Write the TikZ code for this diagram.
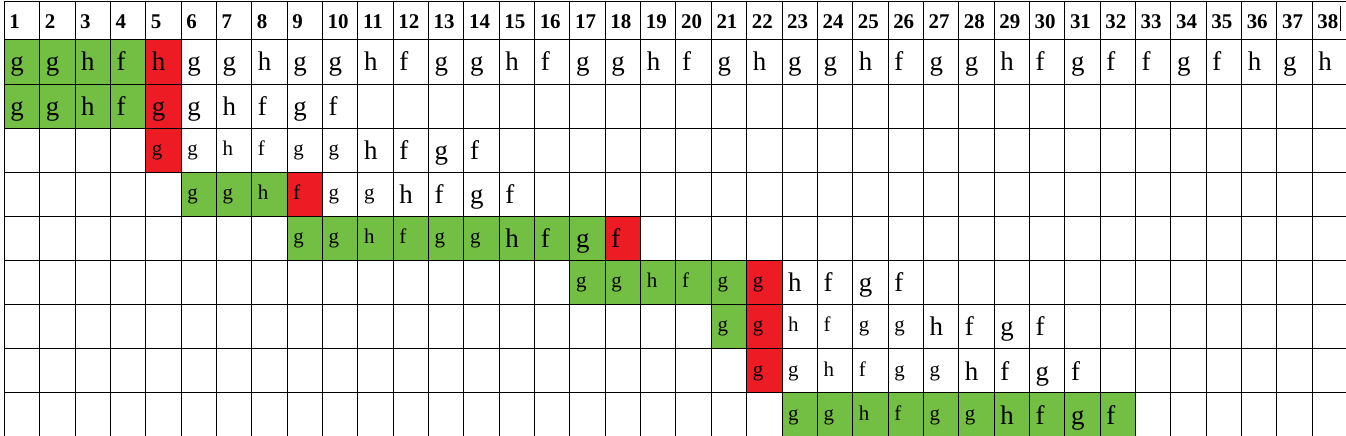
\documentclass[tikz,border=0pt]{standalone}
\usepackage{fontspec}
\setmainfont{Liberation Serif}
\definecolor{cgreen}{RGB}{114,191,68}
\definecolor{cred}{RGB}{237,28,36}
\def\rowtops{{1.5,39.5,84.5,128.5,172.5,216.5,260.5,304.5,348.5,392.5,436.5}}
\newcommand\colx[2]{\pgfmathsetmacro#1{floor(4.3+35.35*(#2))+0.5}}
\newcommand\fillcells[4]{% row, first col, last col, colour
  \colx\xa{#2-1}
  \colx\xb{#3}
  \pgfmathsetmacro\ya{\rowtops[#1]}
  \pgfmathsetmacro\yb{\rowtops[#1+1]}
  \fill[#4] (\xa,\ya) rectangle (\xb,\yb);
}
\newcommand\putrow[3]{% row, style, list col/letter
  \foreach \c/\t in {#3}{
    \pgfmathsetmacro\xx{4.3+35.35*(\c-1)+6}
    \pgfmathsetmacro\yy{\rowtops[#1]+31.5}
    \node[#2] (r#1c\c) at (\xx,\yy) {\t};
  }
}
\begin{document}
\begin{tikzpicture}[x=1bp,y=-1bp,
  gridline/.style={line width=1.2bp,black},
  hdr/.style={anchor=base west,inner sep=0pt,font=\fontsize{21}{21}\selectfont\bfseries},
  bigtxt/.style={anchor=base west,inner sep=0pt,font=\fontsize{27}{27}\selectfont},
  smalltxt/.style={anchor=base west,inner sep=0pt,yshift=4bp,font=\fontsize{21}{21}\selectfont}]
\useasboundingbox (0,0) rectangle (1346,436);
\clip (0,0) rectangle (1346,436);
\fill[white] (0,0) rectangle (1346,436);
% coloured cells
\fillcells{1}{1}{4}{cgreen}\fillcells{1}{5}{5}{cred}
\fillcells{2}{1}{4}{cgreen}\fillcells{2}{5}{5}{cred}
\fillcells{3}{5}{5}{cred}
\fillcells{4}{6}{8}{cgreen}\fillcells{4}{9}{9}{cred}
\fillcells{5}{9}{17}{cgreen}\fillcells{5}{18}{18}{cred}
\fillcells{6}{17}{21}{cgreen}\fillcells{6}{22}{22}{cred}
\fillcells{7}{21}{21}{cgreen}\fillcells{7}{22}{22}{cred}
\fillcells{8}{22}{22}{cred}
\fillcells{9}{23}{32}{cgreen}
% grid
\foreach \i in {0,...,38}{
  \colx\xv{\i}
  \draw[gridline] (\xv,1.5) -- (\xv,436.5);
}
\foreach \r in {0,...,10}{
  \pgfmathsetmacro\yh{\rowtops[\r]}
  \draw[gridline] (4.5,\yh) -- (1348,\yh);
}
% header
\foreach \c in {1,...,38}{
  \pgfmathsetmacro\xx{4.3+35.35*(\c-1)+5}
  \node[hdr] (h\c) at (\xx,28.3) {\c};
}
\draw[line width=0.6bp] (1340.7,6) -- (1340.7,31);
% rows
\putrow{1}{bigtxt}{1/g,2/g,3/h,4/f,5/h,6/g,7/g,8/h,9/g,10/g,11/h,12/f,13/g,14/g,15/h,16/f,17/g,18/g,19/h,20/f,21/g,22/h,23/g,24/g,25/h,26/f,27/g,28/g,29/h,30/f,31/g,32/f,33/f,34/g,35/f,36/h,37/g,38/h}
\putrow{2}{bigtxt}{1/g,2/g,3/h,4/f,5/g,6/g,7/h,8/f,9/g,10/f}
\putrow{3}{smalltxt}{5/g,6/g,7/h,8/f,9/g,10/g}
\putrow{3}{bigtxt}{11/h,12/f,13/g,14/f}
\putrow{4}{smalltxt}{6/g,7/g,8/h,9/f,10/g,11/g}
\putrow{4}{bigtxt}{12/h,13/f,14/g,15/f}
\putrow{5}{smalltxt}{9/g,10/g,11/h,12/f,13/g,14/g}
\putrow{5}{bigtxt}{15/h,16/f,17/g,18/f}
\putrow{6}{smalltxt}{17/g,18/g,19/h,20/f,21/g,22/g}
\putrow{6}{bigtxt}{23/h,24/f,25/g,26/f}
\putrow{7}{smalltxt}{21/g,22/g,23/h,24/f,25/g,26/g}
\putrow{7}{bigtxt}{27/h,28/f,29/g,30/f}
\putrow{8}{smalltxt}{22/g,23/g,24/h,25/f,26/g,27/g}
\putrow{8}{bigtxt}{28/h,29/f,30/g,31/f}
\putrow{9}{smalltxt}{23/g,24/g,25/h,26/f,27/g,28/g}
\putrow{9}{bigtxt}{29/h,30/f,31/g,32/f}
\end{tikzpicture}
\end{document}
